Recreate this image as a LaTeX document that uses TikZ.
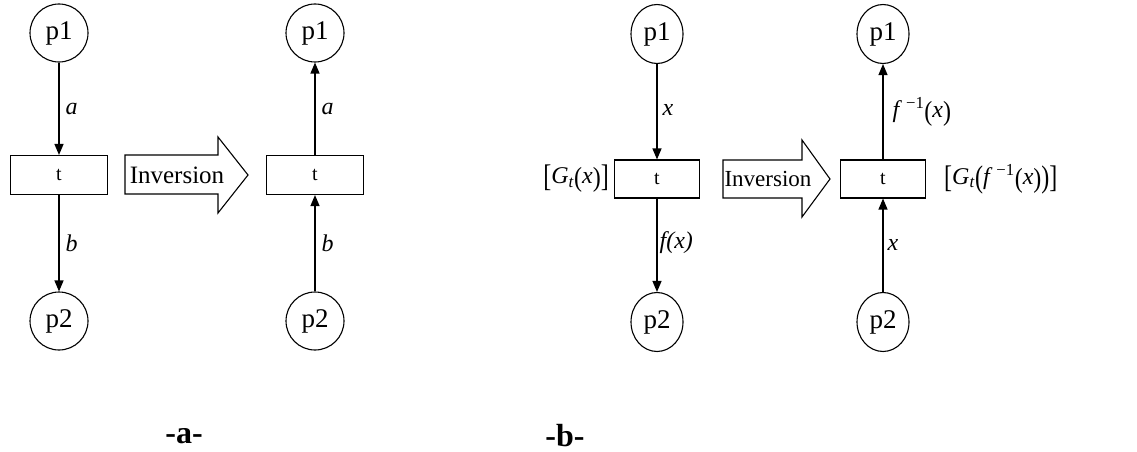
\documentclass[tikz,border=0pt]{standalone}
\usepackage{fontspec}
\setmainfont{Liberation Serif}
\usetikzlibrary{arrows.meta,shapes.geometric}
\newcommand{\tallch}[2][1.3]{\raisebox{-0.13em}{\scalebox{1}[#1]{#2}}}
\tikzset{
  place/.style={draw,circle,line width=1.1pt,minimum size=58pt,inner sep=0pt,font=\fontsize{27}{30}\selectfont},
  placeb/.style={draw,ellipse,line width=1.1pt,minimum width=52pt,minimum height=59pt,inner sep=0pt,font=\fontsize{27}{30}\selectfont},
  trans/.style={draw,rectangle,line width=1.1pt,minimum width=97pt,minimum height=39pt,inner sep=0pt,font=\fontsize{20}{22}\selectfont},
  transb/.style={draw,rectangle,line width=1.1pt,minimum width=85pt,minimum height=38pt,inner sep=0pt,font=\fontsize{20}{22}\selectfont},
  arc/.style={line width=1.2pt,-{Triangle[length=11pt,width=9pt]}},
  lbl/.style={font=\fontsize{24}{27}\selectfont,inner sep=0pt},
  bigarrow/.style={draw,line width=1.1pt},
  invtext/.style={font=\fontsize{25}{28}\selectfont,inner sep=0pt},
  caption/.style={font=\bfseries\fontsize{32}{36}\selectfont,inner sep=0pt}
}
\begin{document}
\begin{tikzpicture}[x=1pt,y=-1pt]
\useasboundingbox (0,0) rectangle (1137,452);
% ---------- part a ----------
\node[place] (ap1) at (59,33) {p1};
\node[trans] (at) at (59,175) {t};
\node[place] (ap2) at (59,321) {p2};
\draw[arc] (ap1) -- node[lbl,right,xshift=6pt] {\itshape a} (at);
\draw[arc] (at) -- node[lbl,right,xshift=6pt] {\itshape b} (ap2);

\draw[bigarrow] (125,155) -- (218,155) -- (218,137) -- (248,175) -- (218,213) -- (218,194) -- (125,194) -- cycle;
\node[invtext] (ainv) at (177,175) {Inversion};

\node[place] (aq1) at (315,33) {p1};
\node[trans] (aq) at (315,175) {t};
\node[place] (aq2) at (315,321) {p2};
\draw[arc] (aq) -- node[lbl,right,xshift=6pt] {\itshape a} (aq1);
\draw[arc] (aq2) -- node[lbl,right,xshift=6pt] {\itshape b} (aq);

\node[caption] (capa) at (184,436) {-a-};

% ---------- part b ----------
\node[placeb] (bp1) at (657,34) {p1};
\node[transb] (bt) at (657,179) {t};
\node[placeb] (bp2) at (657,322) {p2};
\draw[arc] (bp1) -- node[lbl,right,xshift=5pt,pos=0.48] {\itshape x} (bt);
\draw[arc] (bt) -- node[lbl,right,xshift=2pt,pos=0.47] {\itshape f(x)} (bp2);
\node[lbl,anchor=east] (bg) at (609,179) {\tallch{[}\textit{G}\textsubscript{\textit{t}}\tallch[1.15]{(}\textit{x}\tallch[1.15]{)}\tallch{]}};

\draw[bigarrow] (723,160) -- (802,160) -- (802,140) -- (830,179) -- (802,217) -- (802,198) -- (723,198) -- cycle;
\node[invtext,font=\fontsize{23}{26}\selectfont] (binv) at (768,179) {Inversion};

\node[placeb] (bq1) at (883,34) {p1};
\node[transb] (bq) at (883,179) {t};
\node[placeb] (bq2) at (883,322) {p2};
\draw[arc] (bq) -- node[lbl,right,xshift=9pt,pos=0.5] {\textit{f}\,\textsuperscript{−1}\tallch[1.15]{(}\textit{x}\tallch[1.15]{)}} (bq1);
\draw[arc] (bq2) -- node[lbl,right,xshift=4pt,pos=0.5] {\itshape x} (bq);
\node[lbl,anchor=west] (bg2) at (944,179) {\tallch{[}\textit{G}\textsubscript{\textit{t}}\tallch{(}\textit{f}\,\textsuperscript{−1}\tallch[1.15]{(}\textit{x}\tallch[1.15]{)}\tallch{)}\tallch{]}};

\node[caption] (capb) at (565,436) {-b-};
\end{tikzpicture}
\end{document}
